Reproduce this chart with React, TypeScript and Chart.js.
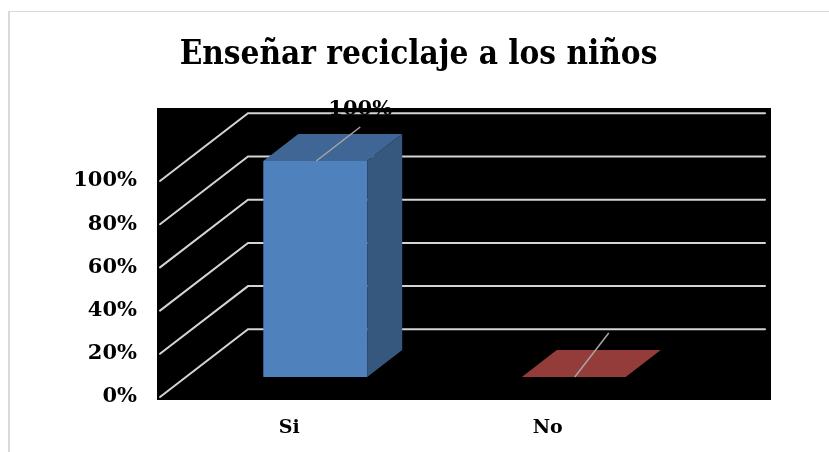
import React, { useEffect, useRef } from "react";
import { Chart, registerables } from "chart.js";

Chart.register(...registerables);

// ---------- data ----------
const TITLE = "Enseñar reciclaje a los niños";
const categories = ["Si", "No"];
const values = [1, 0];
const yMin = 0;
const yMax = 1;
const yStep = 0.2;

// ---------- styles ----------
const FONT = "'DejaVu Serif', 'Liberation Serif', serif";
const TITLE_FONT = "'DejaVu Serif Condensed', 'DejaVu Serif', serif";
const frontColors = ["#4F81BD", "#C0504D"];
const topColors = ["#3F6695", "#943C39"];
const sideColors = ["#36587F", "#7E302E"];
const GRID_COLOR = "#D4D4D4";
const LEADER_COLOR = "#A6A6A6";

// 3D geometry (pixels)
const WALL_DX = 88; // front -> back wall
const WALL_DY = -67.7;
const BAR_SHIFT_X = 26; // front plane -> bar front face
const BAR_SHIFT_Y = -20;
const BAR_DX = 35; // bar depth
const BAR_DY = -27;
const LEADERS = [
  [44, -34],
  [34, -44],
];

const fmt = (v: number) => Math.round(v * 100) + "%";

const threeD = {
  id: "threeD",
  beforeDraw(chart: any) {
    const { ctx, chartArea: a } = chart;
    ctx.save();
    // chart outline
    ctx.strokeStyle = "#D9D9D9";
    ctx.lineWidth = 2;
    ctx.beginPath();
    ctx.moveTo(9, 460);
    ctx.lineTo(9, 11);
    ctx.stroke();
    ctx.lineWidth = 1;
    ctx.beginPath();
    ctx.moveTo(8, 11.5);
    ctx.lineTo(840, 11.5);
    ctx.stroke();
    // black plot background
    ctx.fillStyle = "#000000";
    const x0 = a.left - 3;
    const y0 = a.top - 73;
    ctx.fillRect(x0, y0, a.right + 94 - x0, a.bottom + 3 - y0);
    // floor/wall gridlines
    const ys = chart.scales.y;
    ctx.strokeStyle = GRID_COLOR;
    ctx.lineWidth = 2;
    ctx.lineCap = "round";
    for (const t of ys.ticks) {
      const y = ys.getPixelForValue(t.value);
      ctx.beginPath();
      ctx.moveTo(a.left, y);
      ctx.lineTo(a.left + WALL_DX, y + WALL_DY);
      ctx.lineTo(a.right + WALL_DX, y + WALL_DY);
      ctx.stroke();
    }
    ctx.restore();
  },
  beforeDatasetsDraw(chart: any) {
    chart.ctx.save();
    chart.ctx.translate(BAR_SHIFT_X, BAR_SHIFT_Y);
  },
  afterDatasetsDraw(chart: any) {
    const ctx = chart.ctx;
    ctx.restore();
    ctx.save();
    const meta = chart.getDatasetMeta(0);
    meta.data.forEach((el: any, i: number) => {
      const p = el.getProps(["x", "y", "base", "width"], true);
      const L = p.x - p.width / 2 + BAR_SHIFT_X;
      const R = p.x + p.width / 2 + BAR_SHIFT_X;
      const T = Math.min(p.y, p.base) + BAR_SHIFT_Y;
      const B = Math.max(p.y, p.base) + BAR_SHIFT_Y;
      // top face
      ctx.fillStyle = topColors[i];
      ctx.beginPath();
      ctx.moveTo(L, T);
      ctx.lineTo(R, T);
      ctx.lineTo(R + BAR_DX, T + BAR_DY);
      ctx.lineTo(L + BAR_DX, T + BAR_DY);
      ctx.closePath();
      ctx.fill();
      // side face
      if (B - T > 0.5) {
        ctx.fillStyle = sideColors[i];
        ctx.beginPath();
        ctx.moveTo(R, T);
        ctx.lineTo(R + BAR_DX, T + BAR_DY);
        ctx.lineTo(R + BAR_DX, B + BAR_DY);
        ctx.lineTo(R, B);
        ctx.closePath();
        ctx.fill();
      }
      // leader + data label
      const sx = p.x + BAR_SHIFT_X + 1;
      const sy = T;
      const ex = sx + LEADERS[i][0];
      const ey = sy + LEADERS[i][1];
      ctx.strokeStyle = LEADER_COLOR;
      ctx.lineWidth = 1.5;
      ctx.beginPath();
      ctx.moveTo(sx, sy);
      ctx.lineTo(ex, ey);
      ctx.stroke();
      ctx.fillStyle = "#000000";
      ctx.font = `bold 21px ${FONT}`;
      ctx.textAlign = "center";
      ctx.textBaseline = "alphabetic";
      ctx.fillText(fmt(chart.data.datasets[0].data[i]), ex, ey - 12);
    });
    ctx.restore();
  },
};

export default function App() {
  const ref = useRef<HTMLCanvasElement | null>(null);
  useEffect(() => {
    if (!ref.current) return;
    const chart = new Chart(ref.current, {
      type: "bar",
      data: {
        labels: categories,
        datasets: [
          {
            data: values,
            backgroundColor: frontColors,
            borderWidth: 0,
            barPercentage: 0.402,
            categoryPercentage: 1,
            clip: false as any,
          },
        ],
      },
      options: {
        responsive: false,
        animation: false,
        devicePixelRatio: 1,
        layout: { padding: { left: 0, right: 152, top: 0, bottom: 0 } },
        plugins: {
          legend: { display: false },
          tooltip: { enabled: false },
          title: {
            display: true,
            text: TITLE,
            fullSize: false,
            color: "#000000",
            font: { family: TITLE_FONT, size: 33, weight: "bold", lineHeight: 1.2 },
            padding: { top: 36, bottom: 105.4 },
          },
        },
        scales: {
          x: {
            grid: { display: false, drawTicks: false },
            border: { display: false },
            ticks: {
              color: "#000000",
              font: { family: FONT, size: 19, weight: "bold", lineHeight: 1.2 },
              padding: 20,
            },
            afterFit: (s: any) => {
              s.height = 55;
            },
          },
          y: {
            min: yMin,
            max: yMax,
            grid: { display: false, drawTicks: false },
            border: { display: false },
            ticks: {
              stepSize: yStep,
              color: "#000000",
              font: { family: FONT, size: 21, weight: "bold", lineHeight: 1.2 },
              padding: 23,
              callback: (v: any) => fmt(Number(v)),
            },
            afterFit: (s: any) => {
              s.width = 160;
            },
          },
        },
      },
      plugins: [threeD],
    });
    return () => chart.destroy();
  }, []);
  return (
    <div style={{ position: "fixed", left: 0, top: 0, width: 829, height: 452, background: "#ffffff" }}>
      <canvas ref={ref} width={829} height={452} style={{ display: "block" }} />
    </div>
  );
}
